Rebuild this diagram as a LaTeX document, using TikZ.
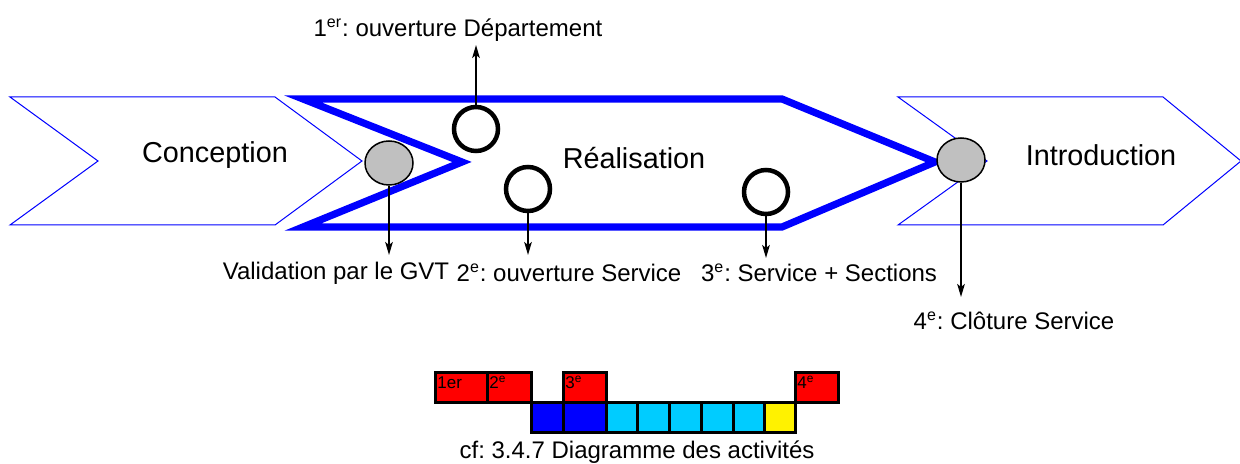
\documentclass[tikz,border=0pt]{standalone}
\usepackage{fontspec}
\setmainfont{Liberation Sans}
\usetikzlibrary{arrows.meta}
\usetikzlibrary{shapes.geometric}

\definecolor{actcyan}{RGB}{0,204,255}
\definecolor{jalongris}{RGB}{192,192,192}

\tikzset{
  phase/.style={draw=blue, line width=0.5pt},
  phasegras/.style={draw=blue, line width=3.6pt, line join=miter},
  jalon/.style={circle, draw, fill=white, line width=2.25pt, minimum size=22pt, inner sep=0pt},
  jalonvu/.style={ellipse, draw, fill=jalongris, line width=0.75pt, minimum width=24pt, minimum height=22pt, inner sep=0pt},
  titre/.style={inner sep=0pt, font=\fontsize{14.4}{17}\selectfont},
  etiq/.style={inner sep=0pt, font=\fontsize{12}{14}\selectfont},
  fleche/.style={->, line width=0.8pt},
  case/.style={draw, line width=1.5pt}
}

\frenchspacing

\begin{document}
\begin{tikzpicture}[x=0.5pt, y=-0.5pt, >={Stealth[length=6.5pt, width=3.8pt, inset=1.5pt]}]
\useasboundingbox (0,0) rectangle (1240,464);

% les trois phases
\draw[phase] (10,97) -- (275,97) -- (362,161) -- (275,225) -- (10,225) -- (98,161) -- cycle;
\draw[phase] (898,97) -- (1163,97) -- (1241,161) -- (1163,225) -- (898,225) -- (987,161) -- cycle;
\draw[phasegras] (303,99) -- (782,99) -- (935,162) -- (782,227) -- (303,227) -- (462,162) -- cycle;

\node[titre] (conc)  at (215,155)  {Conception};
\node[titre] (real)  at (634,158)  {Réalisation};
\node[titre] (intro) at (1101,155) {Introduction};

% jalons
\node[jalonvu] (gvt)   at (389,163) {};
\node[jalonvu] (cloture) at (961,160) {};
\node[jalon]   (dept)  at (476,129) {};
\node[jalon]   (serv)  at (528,189) {};
\node[jalon]   (sect)  at (766,192) {};

\coordinate (gvtbas)  at (389,255);
\coordinate (deptbas) at (476,45);
\coordinate (servbas) at (528,255);
\coordinate (sectbas) at (766,258);
\coordinate (clotbas) at (961,297);

\draw[fleche] (gvt) -- (gvtbas);
\draw[fleche] (dept) -- (deptbas);
\draw[fleche] (serv) -- (servbas);
\draw[fleche] (sect) -- (sectbas);
\draw[fleche] (cloture) -- (clotbas);

\node[etiq] (l1) at (458,30)   {1\textsuperscript{er}: ouverture Département};
\node[etiq] (lv) at (336,273)  {Validation par le GVT};
\node[etiq] (l2) at (569,273)  {2\textsuperscript{e}: ouverture Service};
\node[etiq] (l3) at (819,273)  {3\textsuperscript{e}: Service + Sections};
\node[etiq] (l4) at (1014,321) {4\textsuperscript{e}: Clôture Service};

% diagramme des activites
\foreach \xa/\xb/\txt in {435/487/1er, 487/531/2\textsuperscript{e}, 563/606/3\textsuperscript{e}, 795/838/4\textsuperscript{e}} {
  \draw[case, fill=red] (\xa,372) rectangle (\xb,402);
  \node[anchor=north west, inner sep=1pt, font=\fontsize{8.5}{10}\selectfont] at (\xa,374) {\txt};
}
\foreach \xa/\xb/\coul in {531/563/blue, 563/606/blue, 606/637/actcyan, 637/669/actcyan,
                           669/701/actcyan, 701/733/actcyan, 733/764/actcyan, 764/795/yellow} {
  \draw[case, fill=\coul] (\xa,402) rectangle (\xb,432);
}

\node[etiq] (cf) at (637,452) {cf: 3.4.7 Diagramme des activités};

\end{tikzpicture}
\end{document}
